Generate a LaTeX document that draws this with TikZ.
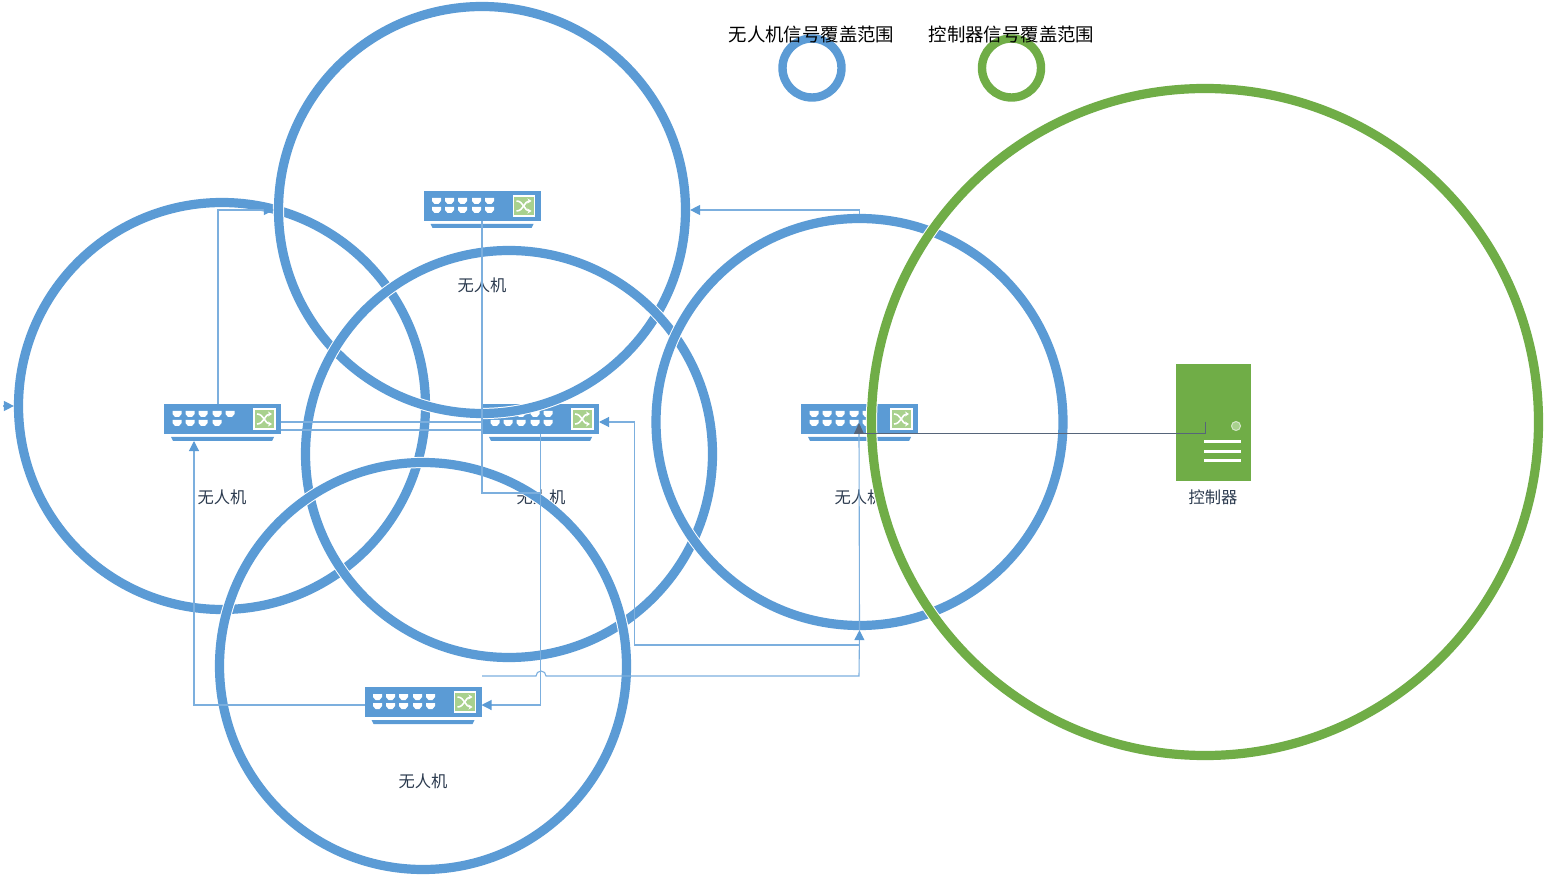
\documentclass[tikz,border=0pt]{standalone}
\usepackage{fontspec}
\setmainfont{Noto Sans CJK SC}
\usetikzlibrary{arrows.meta}
\definecolor{droneblue}{HTML}{5B9BD5}
\definecolor{linkblue}{HTML}{7CAFDE}
\definecolor{ctrlgreen}{HTML}{70AD47}
\definecolor{lightgreen}{HTML}{A9D18E}
\definecolor{slateline}{HTML}{56657A}
\definecolor{labeltext}{HTML}{2B3A4E}
\tikzset{
    rangeblue/.style={circle, draw=droneblue, line width=4.6pt, inner sep=0pt, minimum size=203.5pt, preaction={draw=white, line width=5.6pt}},
    rangegreen/.style={circle, draw=ctrlgreen, line width=4.6pt, inner sep=0pt, minimum size=333.5pt, preaction={draw=white, line width=5.6pt}},
    legendblue/.style={circle, draw=droneblue, line width=4.2pt, inner sep=0pt, minimum size=29.5pt},
    legendgreen/.style={circle, draw=ctrlgreen, line width=4.2pt, inner sep=0pt, minimum size=29.5pt},
    devlabel/.style={text=labeltext, font=\fontsize{8.15pt}{10pt}\selectfont, inner sep=0pt},
    legendlabel/.style={text=black, font=\fontsize{9.2pt}{12pt}\selectfont, inner sep=0pt},
    link/.style={draw=linkblue, line width=.55pt},
    linkarrow/.style={link, -{Triangle[length=5pt, width=5pt, color=droneblue, fill=droneblue]}},
    ctrlarrow/.style={draw=slateline, line width=.5pt, -{Triangle[length=5.5pt, width=5pt, fill=slateline]}},
    switchbody/.style={rectangle, fill=droneblue, inner sep=0pt, minimum width=58.5pt, minimum height=15pt},
    pics/netswitch/.style={code={
        \node[switchbody] (-box) at (58.5, 15) {};
        \coordinate (-w) at (0, 18);
        \coordinate (-e) at (117, 18);
        \fill[droneblue] (7, 33) -- (110, 33) -- (108, 37) -- (9, 37) -- cycle;
        \foreach \px in {13, 26, 39, 53, 66} {
            \foreach \py in {10, 19} {
                \fill[white] (\px-4.5, \py-3) -- (\px+4.5, \py-3) -- (\px+4.5, \py) -- (\px+2, \py+3) -- (\px-2, \py+3) -- (\px-4.5, \py) -- cycle;
            }
        }
        \draw[white, fill=lightgreen, line width=.7pt] (90, 5) rectangle (111, 25);
        \draw[white, line width=.8pt, -{Stealth[length=2pt, width=2.5pt]}] (93, 10) .. controls (100, 10) and (101, 20) .. (108, 20);
        \draw[white, line width=.8pt, -{Stealth[length=2pt, width=2.5pt]}] (93, 20) .. controls (100, 20) and (101, 10) .. (108, 10);
    }},
}

\begin{document}
\begin{tikzpicture}[x=.5pt, y=-.5pt]
    \useasboundingbox (0, 0) rectangle (1545, 876);

    \node[legendblue] (legendDrone) at (812, 68) {};
    \node[legendgreen] (legendCtrl) at (1011.5, 68) {};

    \pic (swTop) at (423.5, 191) {netswitch};
    \pic (swLeft) at (164, 404) {netswitch};
    \fill[droneblue] (225, 419) rectangle (236, 428);
    \pic (swMid) at (482, 404) {netswitch};
    \pic (swRight) at (801, 404) {netswitch};
    \pic (swBot) at (364.5, 687) {netswitch};

    \node[devlabel] (lblTop) at (482, 285) {无人机};
    \node[devlabel] (lblLeft) at (222, 497) {无人机};
    \node[devlabel] (lblMid) at (541, 497) {无人机};
    \node[devlabel] (lblRight) at (859, 497) {无人机};
    \node[devlabel] (lblBot) at (423, 781) {无人机};
    \node[devlabel] (lblCtrl) at (1213, 497) {控制器};

    \node[rangeblue] (rangeLeft) at (222, 406) {};
    \node[rangeblue] (rangeTop) at (482, 210) {};
    \node[rangeblue] (rangeMid) at (509, 454) {};
    \node[rangeblue] (rangeBot) at (423, 666) {};
    \node[rangeblue] (rangeRight) at (859.5, 422) {};
    \node[rangegreen] (rangeCtrl) at (1205, 422) {};

    \node[rectangle, fill=ctrlgreen, inner sep=0pt, minimum width=37.5pt, minimum height=58.5pt] (ctrl) at (1213.5, 422.5) {};
    \node[circle, fill=lightgreen, draw=white!70!ctrlgreen, line width=.5pt, inner sep=0pt, minimum size=4.5pt] (ctrlLed) at (1236, 426) {};
    \foreach \barY in {442, 451, 460} {
        \fill[white] (1204, \barY-1.5) rectangle (1241, \barY+1.5);
    }

    \coordinate (startEdge) at (3, 406);
    \coordinate (startBot) at (482, 676);
    \coordinate (jumpIn) at (536, 676);
    \coordinate (forkRight) at (859, 645);
    \coordinate (turnMid) at (541, 493);
    \coordinate (ctrlPort) at (1205, 422);
    \coordinate (swRightPort) at (859, 423);
    \coordinate (swRightLow) at (859, 434);
    \coordinate (swLeftFoot) at (194, 441);

    \draw[linkarrow] (startEdge) -- (rangeLeft.west);
    \draw[linkarrow] ([xshift=-2.25pt]swLeft-box.north) |- (rangeTop.west);
    \draw[linkarrow] (rangeRight.north) |- (rangeTop.east);
    \draw[link] (swLeft-e) -- (swMid-w);
    \draw[link] ([yshift=-4pt]swLeft-e) -- ([yshift=-4pt]swMid-w);
    \draw[link] (swTop-box.south) |- (turnMid);
    \draw[linkarrow] (swMid-box.south) |- (swBot-e);
    \draw[linkarrow] (swBot-w) -| (swLeftFoot);
    \draw[linkarrow] (forkRight) -| ([xshift=17.75pt]swMid-e) -- (swMid-e);
    \draw[linkarrow] (startBot) -- (jumpIn) arc[start angle=180, end angle=360, radius=5] -- (859, 676) -- (rangeRight.south);
    \draw[link] (rangeRight.south) -- (swRightLow);
    \draw[ctrlarrow] (ctrlPort) |- (swRightLow) -- (swRightPort);

    \node[legendlabel] (legendDroneText) at (811.5, 35) {无人机信号覆盖范围};
    \node[legendlabel] (legendCtrlText) at (1011.5, 35) {控制器信号覆盖范围};
\end{tikzpicture}
\end{document}
